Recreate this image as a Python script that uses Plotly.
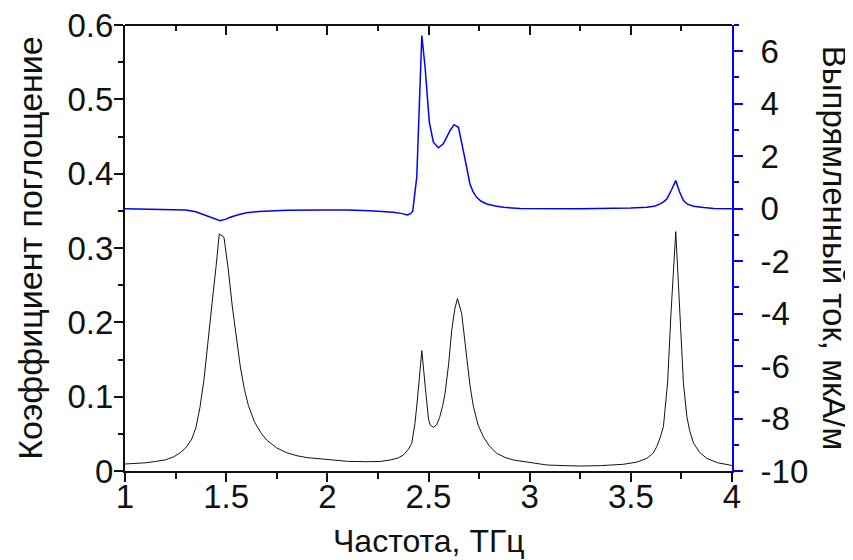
import plotly.graph_objects as go

# Absorption coefficient (left axis)
freq_abs = [1.00, 1.05, 1.10, 1.15, 1.20, 1.24, 1.27, 1.30, 1.33, 1.35, 1.37, 1.39, 1.41,
            1.43, 1.45, 1.466, 1.489, 1.51, 1.53, 1.55, 1.57, 1.59, 1.61, 1.64, 1.67, 1.70,
            1.75, 1.80, 1.85, 1.90, 1.96, 2.03, 2.10, 2.195, 2.26, 2.31, 2.35, 2.376, 2.40,
            2.417, 2.433, 2.445, 2.455, 2.467, 2.485, 2.50, 2.508, 2.524, 2.54, 2.555, 2.57,
            2.582, 2.60, 2.615, 2.63, 2.643, 2.664, 2.675, 2.689, 2.705, 2.722, 2.745, 2.771,
            2.80, 2.837, 2.88, 2.92, 3.00, 3.085, 3.17, 3.25, 3.35, 3.463, 3.53, 3.579, 3.61,
            3.628, 3.645, 3.661, 3.682, 3.698, 3.722, 3.743, 3.76, 3.777, 3.79, 3.81, 3.84,
            3.875, 3.93, 3.99, 4.00]
absorption = [0.0094, 0.0100, 0.0110, 0.0128, 0.0150, 0.019, 0.024, 0.031, 0.043, 0.058, 0.085,
              0.122, 0.170, 0.225, 0.275, 0.319, 0.3145, 0.272, 0.222, 0.178, 0.140, 0.110,
              0.088, 0.066, 0.052, 0.0417, 0.031, 0.0245, 0.0205, 0.018, 0.0165, 0.0140, 0.0130,
              0.0125, 0.0128, 0.0148, 0.0175, 0.0215, 0.029, 0.037, 0.064, 0.0955, 0.131, 0.162,
              0.11, 0.07, 0.062, 0.0588, 0.062, 0.072, 0.088, 0.1045, 0.145, 0.19, 0.218, 0.232,
              0.212, 0.185, 0.149, 0.115, 0.0865, 0.062, 0.046, 0.034, 0.0238, 0.018, 0.0148,
              0.0115, 0.0081, 0.0072, 0.0067, 0.0072, 0.009, 0.012, 0.017, 0.024, 0.0327, 0.045,
              0.0596, 0.12, 0.21, 0.322, 0.2077, 0.118, 0.073, 0.055, 0.0373, 0.025, 0.017,
              0.011, 0.008, 0.007]

# Rectified current (right axis)
freq_cur = [1.00, 1.10, 1.20, 1.30, 1.35, 1.40, 1.44, 1.47, 1.50, 1.52, 1.56, 1.60, 1.66,
            1.717, 1.80, 1.964, 2.10, 2.21, 2.28, 2.326, 2.37, 2.395, 2.41, 2.422, 2.442,
            2.455, 2.467, 2.483, 2.504, 2.524, 2.549, 2.573, 2.607, 2.626, 2.648, 2.672,
            2.69, 2.705, 2.72, 2.738, 2.76, 2.788, 2.83, 2.87, 2.953, 3.25, 3.50, 3.58,
            3.62, 3.645, 3.665, 3.678, 3.70, 3.722, 3.74, 3.76, 3.78, 3.81, 3.86, 3.91, 4.00]
current = [0.0, -0.01, -0.02, -0.05, -0.12, -0.27, -0.40, -0.46, -0.40, -0.33, -0.23, -0.16,
           -0.11, -0.08, -0.06, -0.05, -0.05, -0.08, -0.11, -0.14, -0.19, -0.24, -0.20, -0.1,
           1.2, 4.0, 6.6, 5.4, 3.3, 2.53, 2.32, 2.47, 2.98, 3.2, 3.1, 2.21,
           1.5, 0.94, 0.65, 0.43, 0.28, 0.18, 0.10, 0.05, 0.01, 0.0, 0.02, 0.05,
           0.10, 0.18, 0.28, 0.37, 0.70, 1.07, 0.65, 0.31, 0.17, 0.09, 0.04, 0.01, 0.0]

x_ticks = [1, 1.5, 2, 2.5, 3, 3.5, 4]
x_tick_labels = ["1", "1.5", "2", "2.5", "3", "3.5", "4"]
y_ticks = [0, 0.1, 0.2, 0.3, 0.4, 0.5, 0.6]
y_tick_labels = ["0", "0.1", "0.2", "0.3", "0.4", "0.5", "0.6"]
y2_ticks = [-10, -8, -6, -4, -2, 0, 2, 4, 6]
y2_tick_labels = ["-10", "-8", "-6", "-4", "-2", "0", "2", "4", "6"]

FONT = "Liberation Sans, Arial, sans-serif"
INK = "#111111"

fig = go.Figure()
fig.add_trace(go.Scatter(x=freq_abs, y=absorption, mode="lines",
                         line=dict(color=INK, width=1), yaxis="y", showlegend=False))
fig.add_trace(go.Scatter(x=freq_cur, y=current, mode="lines",
                         line=dict(color="#0000ff", width=1.5), yaxis="y2", showlegend=False))
# helper trace so that the top axis (inward ticks) is drawn
fig.add_trace(go.Scatter(x=[1, 4], y=[0.3, 0.3], mode="markers", marker=dict(opacity=0, size=1),
                         xaxis="x2", yaxis="y", showlegend=False, hoverinfo="skip"))

tickfont = dict(family=FONT, size=33, color=INK)

fig.update_layout(
    width=845, height=552,
    margin=dict(l=117, r=121, t=17, b=89),
    plot_bgcolor="white", paper_bgcolor="white",
    xaxis=dict(range=[1, 4], tickvals=x_ticks, ticktext=x_tick_labels, automargin=False,
               showgrid=False, zeroline=False, showline=True, linecolor=INK, linewidth=2,
               ticklabeloverflow="allow", ticklabelstandoff=-14,
               ticks="outside", ticklen=9, tickwidth=2, tickcolor=INK,
               minor=dict(dtick=0.25, ticks="outside", ticklen=6, tickwidth=1.5, tickcolor=INK),
               tickfont=tickfont),
    xaxis2=dict(range=[1, 4], overlaying="x", anchor="free", position=1, side="top",
                tickvals=x_ticks, showticklabels=False, automargin=False,
                showgrid=False, zeroline=False, showline=True, linecolor=INK, linewidth=2,
                ticks="inside", ticklen=9, tickwidth=2, tickcolor=INK,
                minor=dict(dtick=0.25, ticks="inside", ticklen=5, tickwidth=1.5, tickcolor=INK)),
    yaxis=dict(range=[0, 0.6], tickvals=y_ticks, ticktext=y_tick_labels, automargin=False,
               showgrid=False, zeroline=False, showline=True, linecolor=INK, linewidth=2,
               ticklabeloverflow="allow", ticklabelstandoff=-6,
               ticks="outside", ticklen=9, tickwidth=2, tickcolor=INK,
               minor=dict(dtick=0.05, ticks="outside", ticklen=5, tickwidth=1.5, tickcolor=INK),
               tickfont=tickfont),
    yaxis2=dict(range=[-10, 7], overlaying="y", side="right", tickvals=y2_ticks,
                ticktext=y2_tick_labels, automargin=False, ticklabelstandoff=11,
                ticklabeloverflow="allow",
                showgrid=False, zeroline=False, showline=True, linecolor="#0000ff", linewidth=2,
                ticks="outside", ticklen=9, tickwidth=2, tickcolor="#0000ff",
                minor=dict(dtick=1, ticks="outside", ticklen=5, tickwidth=1.5, tickcolor="#0000ff"),
                tickfont=tickfont),
    annotations=[
        dict(text="Частота, ТГц", xref="paper", yref="paper", x=0.5, y=-0.158,
             xanchor="center", yanchor="middle", showarrow=False,
             font=dict(family=FONT, size=32, color=INK)),
        dict(text="Коэффициент поглощение", xref="paper", yref="paper", x=-0.157, y=0.5,
             xanchor="center", yanchor="middle", textangle=-90, showarrow=False,
             font=dict(family=FONT, size=34, color=INK)),
        dict(text="Выпрямленный ток, мкА/м", xref="paper", yref="paper", x=1.17, y=0.5,
             xanchor="center", yanchor="middle", textangle=90, showarrow=False,
             font=dict(family=FONT, size=33, color=INK)),
    ],
)

fig.write_html("out.html")
